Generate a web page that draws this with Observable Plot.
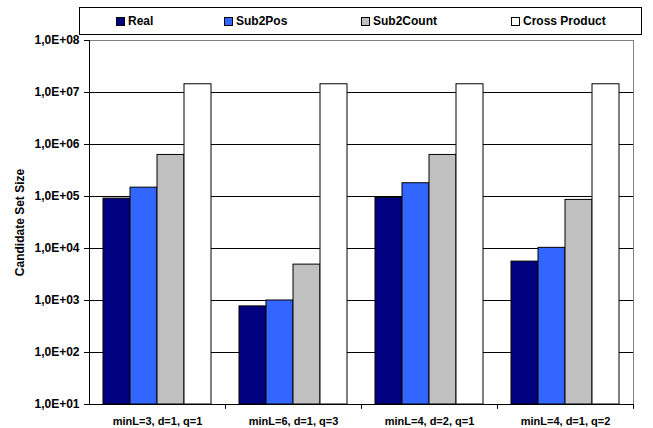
<!DOCTYPE html>
<html>
<head>
<meta charset="utf-8">
<script src="https://cdn.jsdelivr.net/npm/d3@7"></script>
<script src="https://cdn.jsdelivr.net/npm/@observablehq/plot@0.6"></script>
<style>
  body { margin: 0; background: #fff; }
  #wrap { position: relative; width: 653px; height: 428px; font-family: "Liberation Sans", Arial, sans-serif; font-weight: bold; }
  #legend { position: absolute; left: 79px; top: 7px; width: 563px; height: 28px; box-sizing: border-box; border: 1px solid #000; background: #fff; }
  .item { position: absolute; top: 0; height: 26px; display: flex; align-items: center; font-size: 12px; color: #000; white-space: nowrap; }
  .sw { width: 9px; height: 9px; box-sizing: border-box; border: 1px solid #000; margin-right: 3px; }
</style>
</head>
<body>
<div id="wrap"><div id="legend"></div></div>
<script>
const categories = ["minL=3, d=1, q=1", "minL=6, d=1, q=3", "minL=4, d=2, q=1", "minL=4, d=1, q=2"];
const series = ["Real", "Sub2Pos", "Sub2Count", "Cross Product"];
const real = [9.1e4, 7.7e2, 9.4e4, 5.6e3];
const sub2pos = [1.48e5, 1.0e3, 1.8e5, 1.03e4];
const sub2count = [6.3e5, 4.9e3, 6.3e5, 8.6e4];
const crossProduct = [1.44e7, 1.44e7, 1.44e7, 1.44e7];
const colors = ["#000080", "#3366FF", "#C0C0C0", "#FFFFFF"];
const yTicks = [1e1, 1e2, 1e3, 1e4, 1e5, 1e6, 1e7, 1e8];
const yTickLabels = ["1,0E+01", "1,0E+02", "1,0E+03", "1,0E+04", "1,0E+05", "1,0E+06", "1,0E+07", "1,0E+08"];
const yTitle = "Candidate Set Size";

const values = [real, sub2pos, sub2count, crossProduct];
const data = [];
categories.forEach((c, i) => series.forEach((s, j) => data.push({category: c, series: s, value: values[j][i]})));

const tickShape = {draw(context, l) { context.moveTo(0, 0); context.lineTo(0, -l); }};

const chart = Plot.plot({
  width: 653,
  height: 428,
  marginLeft: 88,
  marginRight: 20,
  marginTop: 40,
  marginBottom: 24,
  style: {fontFamily: "'Liberation Sans', Arial, sans-serif", fontWeight: "bold", fontSize: "12px", background: "transparent", color: "#000"},
  fx: {domain: categories, padding: 0, label: null},
  x: {domain: series, paddingInner: 0, paddingOuter: 0.5, axis: null},
  y: {type: "log", domain: [yTicks[0], yTicks[yTicks.length - 1]], label: null},
  color: {domain: series, range: colors},
  marks: [
    Plot.ruleY(yTicks, {stroke: "#000", strokeWidth: 1}),
    Plot.barY(data, {fx: "category", x: "series", y1: yTicks[0], y2: "value", fill: "series", stroke: "#000", strokeWidth: 1}),
    Plot.frame({anchor: "top", stroke: "#808080"}),
    Plot.frame({anchor: "right", facetAnchor: "right", stroke: "#808080"}),
    Plot.frame({anchor: "left", facetAnchor: "left", stroke: "#000"}),
    Plot.ruleY([yTicks[0]], {stroke: "#000"}),
    Plot.vector({length: 1}, {frameAnchor: "bottom-right", length: 4, rotate: 180, anchor: "start", shape: tickShape, stroke: "#000", strokeWidth: 1}),
    Plot.axisY({ticks: yTicks, tickFormat: d => yTickLabels[yTicks.indexOf(d)], tickSize: 5, tickPadding: 5, fontSize: 12, label: null}),
    Plot.text([yTitle], {text: d => d, frameAnchor: "left", textAnchor: "middle", rotate: -90, dx: -69, fontSize: 12, fontWeight: "bold", fill: "#000", facetAnchor: "left"}),
    Plot.axisFx({anchor: "bottom", tickSize: 0, tickPadding: 13, fontSize: 11, label: null})
  ]
});
document.getElementById("wrap").prepend(chart);

const legendLeft = [36, 144, 281, 431];
const legend = document.getElementById("legend");
series.forEach((s, i) => {
  const it = document.createElement("div");
  it.className = "item";
  it.style.left = legendLeft[i] + "px";
  const sw = document.createElement("div");
  sw.className = "sw";
  sw.style.background = colors[i];
  it.appendChild(sw);
  it.appendChild(document.createTextNode(s));
  legend.appendChild(it);
});
</script>
</body>
</html>
